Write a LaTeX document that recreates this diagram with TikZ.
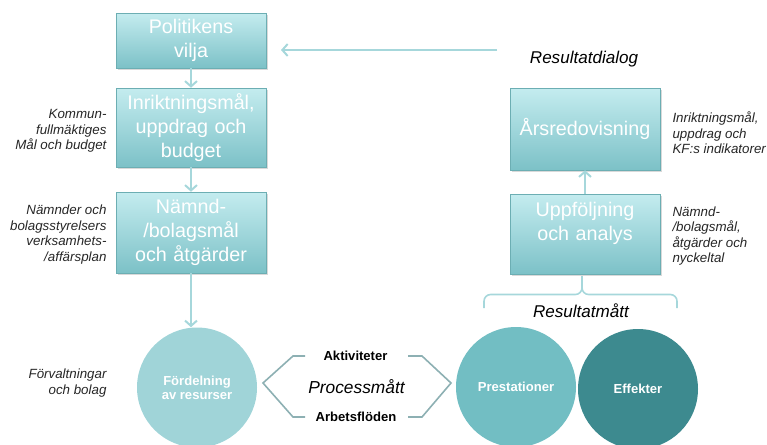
\documentclass[tikz,border=0pt]{standalone}
\usepackage{fontspec}
\setmainfont{Liberation Sans}
\usepackage{tikz}
\usetikzlibrary{positioning, shadows, arrows.meta}
\definecolor{boxtop}{HTML}{C4ECEF}
\definecolor{boxbot}{HTML}{7CC1C7}
\definecolor{boxline}{HTML}{6CAEB3}
\definecolor{arrowblue}{HTML}{A6D7DB}
\definecolor{resursfill}{HTML}{A0D4D8}
\definecolor{prestfill}{HTML}{72BEC3}
\definecolor{effektfill}{HTML}{3D8A8F}
\definecolor{procline}{HTML}{8DB0B3}

\begin{document}
\begin{tikzpicture}[x=0.75pt, y=-0.75pt,
	box/.style={draw=boxline, top color=boxtop, bottom color=boxbot, minimum width=112.5pt, text width=104pt, inner ysep=2pt, align=center, text=white, font=\fontsize{14.8}{18}\selectfont, drop shadow={opacity=0.3, shadow xshift=1.5pt, shadow yshift=-1.5pt}},
	boxtext/.style={text width=104pt, inner sep=0pt, align=center, text=white, font=\fontsize{14.8}{17.5}\selectfont},
	ring/.style={circle, minimum size=90pt, inner sep=0pt, align=center, text=white, font=\fontsize{9.8}{10.5}\selectfont\bfseries},
	side/.style={inner sep=0pt, text=black!85, font=\fontsize{10}{11.6}\selectfont\itshape},
	flow/.style={draw=arrowblue, line width=1.5pt, -{Straight Barb[length=4pt, width=9pt]}},
	bracket/.style={draw=procline, line width=1.2pt}]
	\useasboundingbox (0,0) rectangle (767,444);
	
	% left column
	\node[box, minimum height=41.25pt] (vilja) at (191,40.5) {Politikens\\vilja};
	\node[box, minimum height=59.25pt] (inrikt) at (191,127.5) {Inriktningsmål,\\uppdrag och\\budget};
	\node[box, minimum height=60.75pt] (namnd) at (191,232.5) {Nämnd-\\/bolagsmål\\och åtgärder};
	\draw[flow] (vilja.south) -- (inrikt.north);
	\draw[flow] (inrikt.south) -- (namnd.north);
	
	\node[side, align=right, left=6.75pt of inrikt, yshift=-2.5pt] (kflabel) {Kommun-\\fullmäktiges\\Mål och budget};
	\node[side, align=right, left=6.75pt of namnd, yshift=-1.5pt] (namndlabel) {Nämnder och\\bolagsstyrelsers\\verksamhets-\\/affärsplan};
	
	% right column
	\node[box, minimum height=61.5pt] (arsred) at (585,129) {Årsredovisning};
	\node[box, minimum height=60pt] (uppf) at (585,234) {};
	\node[boxtext] (uppftext) at (585,223.5) {Uppföljning\\och analys};
	\draw[flow] (uppf.north) -- (arsred.south);
	
	\node[side, align=left, right=9pt of arsred, yshift=-3pt] (arslabel) {Inriktningsmål,\\uppdrag och\\KF:s indikatorer};
	\node[side, align=left, right=9pt of uppf, yshift=-1.5pt] (uppflabel) {Nämnd-\\/bolagsmål,\\åtgärder och\\nyckeltal};
	
	% resultatdialog
	\node[font=\fontsize{12.8}{15}\selectfont\itshape, inner sep=0pt] (dialog) at (584,59) {Resultatdialog};
	\coordinate (dialogstart) at (497,50);
	\coordinate (dialogend) at (281,50);
	\draw[flow] (dialogstart) -- (dialogend);
	
	% circles
	\node[ring, fill=resursfill] (resurs) at (197,387.5) {Fördelning\\av resurser};
	\node[ring, fill=prestfill] (prest) at (516,387) {Prestationer};
	\node[ring, fill=effektfill] (effekt) at (638,389) {Effekter};
	\draw[flow] (namnd.south) -- (namnd.south |- resurs.north);
	
	\node[side, align=right, left=22.5pt of resurs, yshift=3.5pt] (forvlabel) {Förvaltningar\\och bolag};
	
	% processmatt
	\node[font=\fontsize{9.8}{11}\selectfont\bfseries, inner sep=0pt] (aktiv) at (355.5,356) {Aktiviteter};
	\node[font=\fontsize{13}{15}\selectfont\itshape, inner sep=0pt] (process) at (356.5,387) {Processmått};
	\node[font=\fontsize{9.8}{11}\selectfont\bfseries, inner sep=0pt] (arbets) at (356,417) {Arbetsflöden};
	\draw[bracket] (305,356) -- (293,356) -- (263,383) -- (293,417) -- (305,417);
	\draw[bracket] (408,356) -- (422,356) -- (451,383) -- (422,417) -- (408,417);
	
	% resultatmatt
	\draw[draw=arrowblue, line width=1.2pt, rounded corners=5pt] (484,308) -- (484,294.5) -- (582,294.5) -- (582,276);
	\draw[draw=arrowblue, line width=1.2pt, rounded corners=5pt] (677,308) -- (677,294.5) -- (582,294.5) -- (582,276);
	\node[font=\fontsize{12.8}{15}\selectfont\itshape, inner sep=0pt] (resultat) at (581,311) {Resultatmått};
\end{tikzpicture}
\end{document}
